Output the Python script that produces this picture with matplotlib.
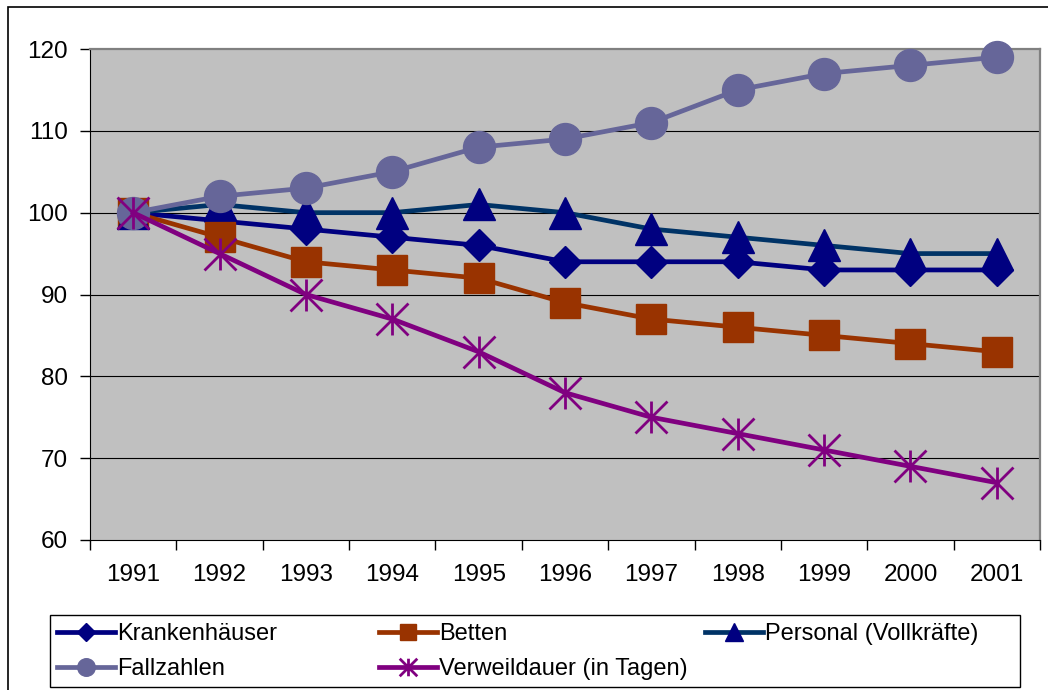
import numpy as np
import matplotlib
matplotlib.use("Agg")
from matplotlib import pyplot as plt
from matplotlib.path import Path
from matplotlib.patches import Rectangle

plt.rcParams['font.family'] = ['Liberation Sans', 'DejaVu Sans']

years = ["1991", "1992", "1993", "1994", "1995", "1996", "1997", "1998", "1999", "2000", "2001"]
krankenhaeuser = [100, 99, 98, 97, 96, 94, 94, 94, 93, 93, 93]
betten = [100, 97, 94, 93, 92, 89, 87, 86, 85, 84, 83]
personal = [100, 101, 100, 100, 101, 100, 98, 97, 96, 95, 95]
fallzahlen = [100, 102, 103, 105, 108, 109, 111, 115, 117, 118, 119]
verweildauer = [100, 95, 90, 87, 83, 78, 75, 73, 71, 69, 67]
y_ticks = [60, 70, 80, 90, 100, 110, 120]

# excel style star: vertical bar + X
star = Path([(0, -1), (0, 1), (-1, -1), (1, 1), (-1, 1), (1, -1)],
            [Path.MOVETO, Path.LINETO, Path.MOVETO, Path.LINETO, Path.MOVETO, Path.LINETO])

W, H = 1048, 690
fig = plt.figure(figsize=(W / 100, H / 100), dpi=100)
ax = fig.add_axes([90 / W, 1 - 540 / H, 950 / W, 491 / H])
ax.set_facecolor("#C0C0C0")

x = np.arange(len(years))
lw = 3.4
h_kh, = ax.plot(x, krankenhaeuser, color="#000080", lw=lw, marker="D", ms=16,
                mec="#000080", label="Krankenhäuser", clip_on=False, zorder=3)
h_be, = ax.plot(x, betten, color="#993300", lw=lw, marker="s", ms=22,
                mec="#993300", label="Betten", clip_on=False, zorder=4)
h_pe, = ax.plot(x, personal, color="#003366", lw=lw, marker="^", ms=23,
                mfc="#000080", mec="#000080", label="Personal (Vollkräfte)", clip_on=False, zorder=5)
h_fa, = ax.plot(x, fallzahlen, color="#666699", lw=lw, marker="o", ms=23,
                mec="#666699", label="Fallzahlen", clip_on=False, zorder=6)
h_ve, = ax.plot(x, verweildauer, color="#800080", lw=lw, marker=star, ms=23, mew=2,
                mec="#800080", label="Verweildauer (in Tagen)", clip_on=False, zorder=7)

for yv in y_ticks[1:-1]:
    ax.axhline(yv, color="#000000", lw=0.8, zorder=1)

ax.set_xlim(-0.5, len(years) - 0.5)
ax.set_ylim(60, 120)
ax.set_yticks(y_ticks)
ax.set_xticks(x)
ax.set_xticklabels(years)
ax.set_xticks(np.arange(-0.5, len(years)), minor=True)
ax.tick_params(axis="x", which="major", length=0, pad=17, labelsize=17.5)
ax.tick_params(axis="x", which="minor", length=7, width=1, direction="out", color="black")
ax.tick_params(axis="y", length=7, width=1, direction="out", pad=9, labelsize=17.5)

ax.spines["left"].set_color("black")
ax.spines["bottom"].set_color("black")
ax.spines["top"].set_color("#808080")
ax.spines["right"].set_color("#808080")
ax.spines["top"].set_linewidth(1.6)
ax.spines["right"].set_linewidth(1.6)

# legend: one frame, three columns placed like the excel legend
fig.add_artist(Rectangle((50 / W, 1 - 687 / H), 970 / W, 72 / H, transform=fig.transFigure,
                         fill=False, edgecolor="black", lw=1.0))
columns = [([h_kh, h_fa], ["Krankenhäuser", "Fallzahlen"], 57),
           ([h_be, h_ve], ["Betten", "Verweildauer (in Tagen)"], 379),
           ([h_pe], ["Personal (Vollkräfte)"], 705)]
for handles, labels, xpos in columns:
    leg = fig.legend(handles, labels, loc="upper left",
                     bbox_to_anchor=(xpos / W, 1 - 623 / H), borderaxespad=0,
                     fontsize=17, handlelength=2.45, handletextpad=0.1, markerscale=0.55,
                     labelspacing=0.55, borderpad=0, frameon=False)

fig.add_artist(Rectangle((8 / W, -10 / H), 1060 / W, 693 / H, transform=fig.transFigure,
                         fill=False, edgecolor="black", lw=1.2))

fig.savefig("out.png", dpi=100)
